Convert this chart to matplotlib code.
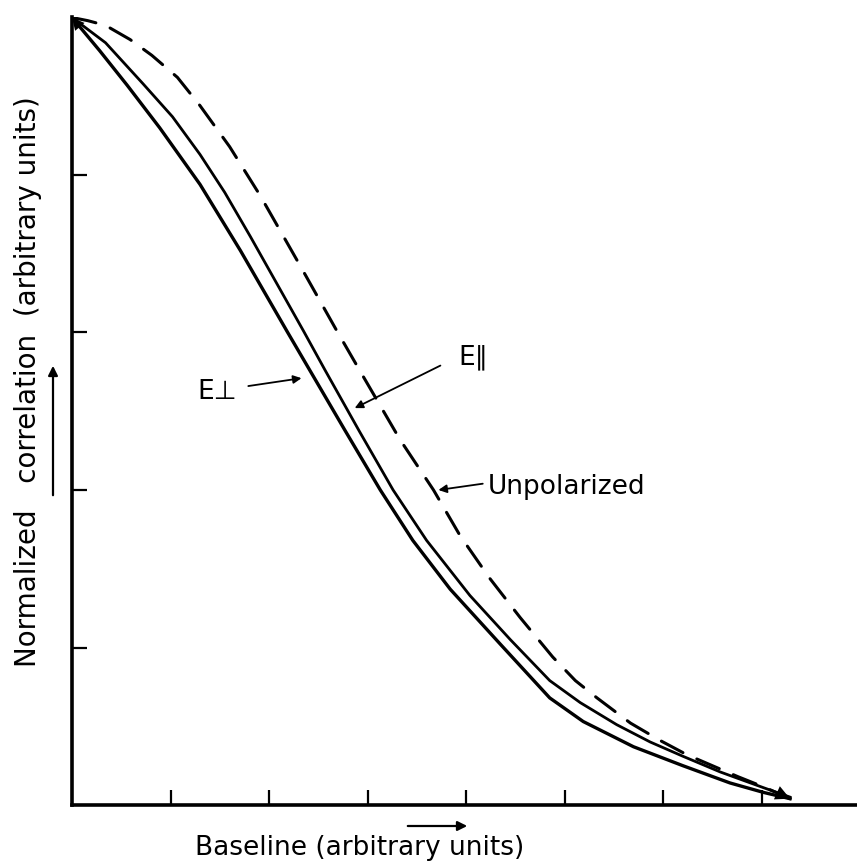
import matplotlib.pyplot as plt
from matplotlib.patches import FancyArrowPatch

# curves, baseline vs normalized correlation
x_perp = [0.0, 0.28, 0.56, 0.89, 1.30, 1.71, 2.19, 2.77, 3.13, 3.46, 3.84, 4.35, 4.85,
          5.19, 5.70, 6.20, 6.68, 7.02, 7.29]
y_perp = [5.0, 4.79, 4.57, 4.30, 3.94, 3.52, 3.00, 2.38, 2.00, 1.68, 1.37, 1.02, 0.68,
          0.53, 0.37, 0.25, 0.14, 0.08, 0.04]

x_par = [0.0, 0.34, 0.72, 1.02, 1.30, 1.55, 1.81, 2.35, 2.57, 2.92, 3.26, 3.60, 4.04,
         4.45, 4.85, 5.16, 5.53, 5.87, 6.20, 6.58, 7.02, 7.29]
y_par = [5.0, 4.84, 4.58, 4.37, 4.13, 3.89, 3.61, 3.01, 2.76, 2.37, 2.00, 1.68, 1.33,
         1.05, 0.79, 0.65, 0.51, 0.40, 0.31, 0.21, 0.11, 0.05]

x_unpol = [0.0, 0.16, 0.34, 0.59, 0.81, 1.07, 1.30, 1.60, 1.91, 2.32, 2.68, 2.92, 3.33,
           3.67, 3.94, 4.24, 4.55, 4.88, 5.11, 5.33, 5.67, 5.97, 6.24, 6.76, 7.04, 7.29]
y_unpol = [5.0, 4.98, 4.95, 4.86, 4.76, 4.62, 4.44, 4.18, 3.87, 3.42, 3.02, 2.76, 2.32,
           2.00, 1.71, 1.44, 1.19, 0.94, 0.79, 0.68, 0.52, 0.41, 0.32, 0.18, 0.11, 0.04]

x_ticks = [1, 2, 3, 4, 5, 6, 7]
y_ticks = [1, 2, 3, 4]

fig = plt.figure(figsize=(8.57, 8.67), dpi=100)
ax = fig.add_axes([72 / 857, 62 / 867, 785 / 857, 788 / 867])

ax.plot(x_perp, y_perp, '-', color='black', lw=2.4, solid_joinstyle='round')
ax.plot(x_par, y_par, '-', color='black', lw=2.0, solid_joinstyle='round')
ax.plot(x_unpol, y_unpol, color='black', lw=2.2, dashes=(8, 5), dash_capstyle='round')

# arrowheads where the curves meet at both ends
ax.annotate('', xy=(x_unpol[-1], y_unpol[-1]), xytext=(x_unpol[-2], y_unpol[-2]),
            arrowprops=dict(arrowstyle='-|>', color='black', lw=0, mutation_scale=26, shrinkA=0, shrinkB=0))
ax.annotate('', xy=(x_perp[0], y_perp[0]), xytext=(x_perp[1], y_perp[1]),
            arrowprops=dict(arrowstyle='-|>', color='black', lw=0, mutation_scale=22, shrinkA=0, shrinkB=0))

ax.set_xlim(0, 785 / 98.5)
ax.set_ylim(0, 788 / 157.5)
ax.set_xticks(x_ticks)
ax.set_yticks(y_ticks)
ax.tick_params(direction='in', length=11, width=1.6, labelbottom=False, labelleft=False)
for side in ['top', 'right']:
    ax.spines[side].set_visible(False)
for side in ['left', 'bottom']:
    ax.spines[side].set_linewidth(2.6)

arrow = dict(arrowstyle='-|>', color='black', lw=1.3, mutation_scale=12, shrinkA=0, shrinkB=0)
ax.text(1.27, 2.62, 'E\u22a5', fontsize=19, ha='left', va='center')
ax.annotate('', xy=(2.33, 2.71), xytext=(1.79, 2.66), arrowprops=arrow)
ax.annotate('', xy=(2.87, 2.52), xytext=(3.74, 2.79), arrowprops=arrow)
ax.text(3.92, 2.84, 'E\u2225', fontsize=19, ha='left', va='center')
ax.annotate('', xy=(3.72, 2.00), xytext=(4.17, 2.04), arrowprops=arrow)
ax.text(4.22, 2.02, 'Unpolarized', fontsize=19, ha='left', va='center')

fig.text(360 / 857, 1 - 848 / 867, 'Baseline (arbitrary units)', fontsize=19, ha='center', va='center')
fig.text(28 / 857, 1 - 382 / 867, 'Normalized   correlation  (arbitrary units)', fontsize=20,
         ha='center', va='center', rotation=90)
fig.patches.append(FancyArrowPatch(
    (405 / 857, 1 - 826 / 867), (470 / 857, 1 - 826 / 867), transform=fig.transFigure,
    arrowstyle='-|>', mutation_scale=14, color='black', lw=1.6))
fig.patches.append(FancyArrowPatch(
    (53 / 857, 1 - 498 / 867), (53 / 857, 1 - 363 / 867), transform=fig.transFigure,
    arrowstyle='-|>', mutation_scale=14, color='black', lw=1.6))

fig.savefig('out.png', dpi=100)
